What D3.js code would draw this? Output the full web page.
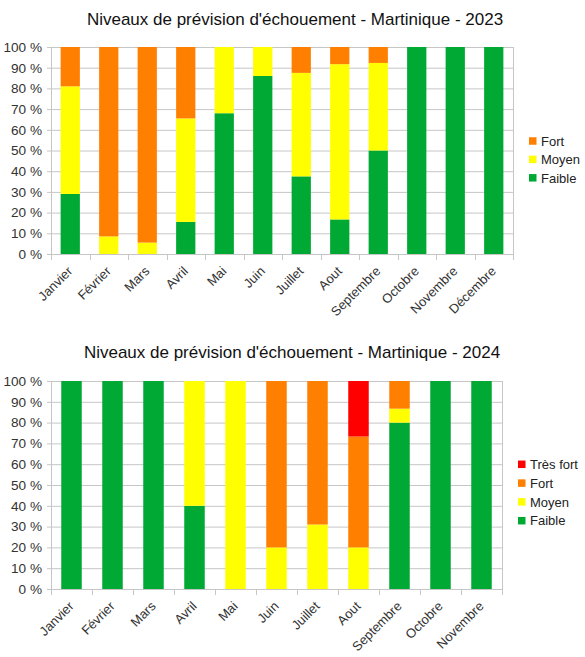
<!DOCTYPE html>
<html lang="fr">
<head>
<meta charset="UTF-8">
<title>Niveaux de prévision d'échouement - Martinique</title>
<script src="https://cdn.jsdelivr.net/npm/d3@7/dist/d3.min.js"></script>
<style>
  body { margin: 0; background: #fff; }
  svg { font-family: "Liberation Sans", Arial, sans-serif; }
  .grid line { stroke: #c6c6c6; stroke-width: 1; }
  .tick text { fill: #333; }
</style>
</head>
<body>
<svg id="chart" width="585" height="657"></svg>
<script>
// --- données (en %) ---
var mois2023 = ['Janvier', 'Février', 'Mars', 'Avril', 'Mai', 'Juin', 'Juillet', 'Aout', 'Septembre', 'Octobre', 'Novembre', 'Décembre'];
var faible2023 = [29, 0, 0, 15.5, 68, 86, 37.5, 16.7, 50, 100, 100, 100];
var moyen2023  = [52, 8.5, 5.5, 50, 32, 14, 50, 75, 42.3, 0, 0, 0];
var fort2023   = [19, 91.5, 94.5, 34.5, 0, 0, 12.5, 8.3, 7.7, 0, 0, 0];

var mois2024 = ['Janvier', 'Février', 'Mars', 'Avril', 'Mai', 'Juin', 'Juillet', 'Aout', 'Septembre', 'Octobre', 'Novembre'];
var faible2024   = [100, 100, 100, 40, 0, 0, 0, 0, 80, 100, 100];
var moyen2024    = [0, 0, 0, 60, 100, 20, 31, 20, 6.7, 0, 0];
var fort2024     = [0, 0, 0, 0, 0, 80, 69, 53.3, 13.3, 0, 0];
var tresFort2024 = [0, 0, 0, 0, 0, 0, 0, 26.7, 0, 0, 0];

var yTicks = [0, 10, 20, 30, 40, 50, 60, 70, 80, 90, 100];

var couleurs = {
    'Faible': '#00a933',
    'Moyen': '#ffff00',
    'Fort': '#ff8000',
    'Très fort': '#ff0000'
};

var svg = d3.select('#chart');

function drawChart(opts) {
    var g = svg.append('g');
    var x = d3.scaleBand().domain(opts.mois).range([opts.left, opts.right]).paddingInner(0.5).paddingOuter(0.25);
    var y = d3.scaleLinear().domain([0, 100]).range([opts.bottom, opts.top]);

    // titre
    g.append('text')
        .attr('x', opts.titleX).attr('y', opts.titleY)
        .attr('text-anchor', 'middle')
        .attr('font-size', '17px')
        .attr('fill', '#111')
        .text(opts.title);

    // grille horizontale
    g.append('g').attr('class', 'grid')
        .selectAll('line').data(yTicks).enter().append('line')
        .attr('x1', opts.left - 4).attr('x2', opts.right)
        .attr('y1', d => y(d) + 0.5).attr('y2', d => y(d) + 0.5);

    // bords verticaux
    g.append('g').attr('class', 'grid')
        .selectAll('line').data([opts.left, opts.right]).enter().append('line')
        .attr('x1', d => d + 0.5).attr('x2', d => d + 0.5)
        .attr('y1', opts.top).attr('y2', opts.bottom + 6);

    // marques entre catégories
    var step = x.step();
    g.append('g').attr('class', 'grid')
        .selectAll('line').data(opts.mois.slice(1)).enter().append('line')
        .attr('x1', d => Math.round(x(d) - step * 0.25) + 0.5)
        .attr('x2', d => Math.round(x(d) - step * 0.25) + 0.5)
        .attr('y1', opts.bottom).attr('y2', opts.bottom + 6);

    // barres empilées
    var rows = opts.mois.map(function (m, i) {
        var r = { mois: m };
        opts.series.forEach(function (s) { r[s.name] = s.values[i]; });
        return r;
    });
    var stack = d3.stack().keys(opts.series.map(s => s.name))(rows);

    g.append('g').selectAll('g').data(stack).enter().append('g')
        .attr('fill', d => couleurs[d.key])
        .selectAll('rect').data(d => d).enter().append('rect')
        .attr('x', d => x(d.data.mois))
        .attr('width', x.bandwidth())
        .attr('y', d => y(d[1]))
        .attr('height', d => y(d[0]) - y(d[1]));

    // axe Y
    var yAxis = d3.axisLeft(y).tickValues(yTicks).tickSize(0).tickPadding(9)
        .tickFormat(d => d + ' %');
    g.append('g')
        .attr('transform', 'translate(' + opts.left + ',0)')
        .call(yAxis)
        .call(a => a.select('.domain').remove())
        .selectAll('text').attr('font-size', '13.6px').attr('font-family', null);

    // axe X (étiquettes inclinées)
    var xAxis = d3.axisBottom(x).tickSize(0).tickPadding(0);
    g.append('g')
        .attr('transform', 'translate(0,' + opts.bottom + ')')
        .call(xAxis)
        .call(a => a.select('.domain').remove())
        .selectAll('text')
        .attr('font-size', '13px').attr('font-family', null)
        .attr('text-anchor', 'end')
        .attr('dy', null).attr('y', 0)
        .attr('transform', 'translate(3,18) rotate(-45)');

    // légende
    var leg = g.append('g').attr('transform', 'translate(' + opts.legendX + ',' + opts.legendY + ')');
    var items = opts.series.map(s => s.name).reverse();
    items.forEach(function (name, i) {
        leg.append('rect')
            .attr('x', 0).attr('y', i * opts.legendStep - 3.75)
            .attr('width', 7.5).attr('height', 7.5)
            .attr('fill', couleurs[name]);
        leg.append('text')
            .attr('x', 12).attr('y', i * opts.legendStep + 4.7)
            .attr('font-size', '13px').attr('fill', '#222')
            .text(name);
    });
}

drawChart({
    title: "Niveaux de prévision d'échouement - Martinique - 2023",
    titleX: 295, titleY: 25,
    mois: mois2023,
    series: [
        { name: 'Faible', values: faible2023 },
        { name: 'Moyen', values: moyen2023 },
        { name: 'Fort', values: fort2023 }
    ],
    left: 51, right: 513, top: 47, bottom: 254,
    legendX: 529, legendY: 141, legendStep: 18.4
});

drawChart({
    title: "Niveaux de prévision d'échouement - Martinique - 2024",
    titleX: 292, titleY: 358,
    mois: mois2024,
    series: [
        { name: 'Faible', values: faible2024 },
        { name: 'Moyen', values: moyen2024 },
        { name: 'Fort', values: fort2024 },
        { name: 'Très fort', values: tresFort2024 }
    ],
    left: 51, right: 502, top: 381, bottom: 589,
    legendX: 518, legendY: 464.3, legendStep: 18.8
});
</script>
</body>
</html>
